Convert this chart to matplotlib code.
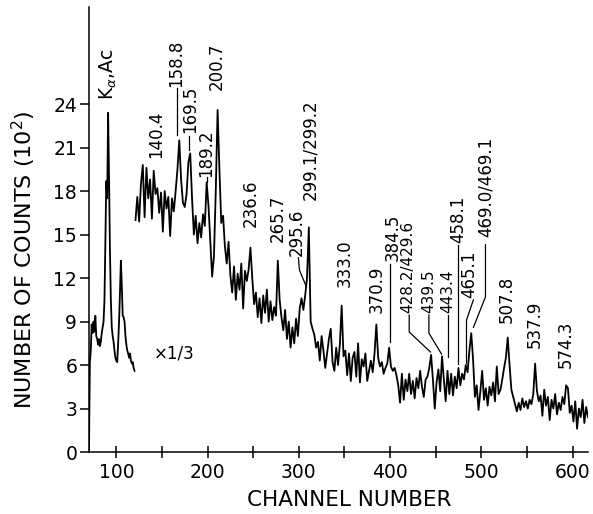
import numpy as np
import matplotlib
matplotlib.use("Agg")
import matplotlib.pyplot as plt

plt.rcParams['font.family'] = ['DejaVu Sans']

# low-energy part, plotted at 1/3 scale (channels 70..120)
low_channels = np.arange(70, 121)
low_counts = [
    0.0, 6.2, 7.0, 8.8, 8.2, 9.0, 8.3, 9.4, 8.0, 7.8,
    7.4, 7.8, 7.3, 7.6, 8.2, 8.6, 9.0, 10.5, 14.5, 18.7,
    17.5, 23.4, 19.0, 14.0, 10.5, 8.6, 8.0, 7.6, 7.0, 6.5,
    6.3, 6.2, 7.5, 9.0, 11.0, 13.2, 11.5, 9.4, 9.3, 9.0,
    8.0, 7.4, 7.0, 6.8, 6.5, 6.8, 6.3, 6.1, 6.2, 5.8,
    5.6,
]

# main spectrum (channels 121..617, every 2nd channel)
main_channels = np.arange(121, 618, 2)
main_counts = [
    16.0, 17.6, 15.9, 18.5, 19.8, 16.2, 19.6, 17.5, 18.8, 16.1,
    19.4, 17.8, 18.2, 16.5, 17.9, 15.2, 18.0, 16.8, 17.6, 14.9,
    17.5, 16.6, 18.0, 19.5, 21.5, 18.8, 17.2, 16.9, 17.8, 20.0,
    20.6, 17.5, 15.0, 16.3, 14.4, 15.8, 14.8, 16.4, 15.6, 18.6,
    17.0, 14.5, 12.1, 13.5, 18.0, 23.6, 19.5, 15.8, 16.3, 14.2,
    13.0, 14.5, 12.2, 11.0, 12.8, 10.5, 12.3, 11.2, 13.0, 9.9,
    12.5, 11.8, 12.6, 14.1, 12.0, 10.2, 11.0, 9.3, 10.6, 8.9,
    10.8, 9.6, 11.2, 9.0, 10.4, 9.1, 10.0, 9.4, 13.2, 10.5,
    9.3, 8.4, 9.8, 7.8, 9.0, 7.2, 8.6, 7.5, 9.2, 8.0,
    9.9, 10.6, 9.8, 10.8, 12.0, 15.5, 9.0, 8.5, 8.1, 7.2,
    7.6, 6.3, 8.0, 7.0, 5.8, 6.8, 7.8, 8.5, 6.2, 5.6,
    7.2, 6.0, 7.4, 10.1, 6.6, 7.0, 5.3, 6.8, 4.9, 6.5,
    6.9, 5.2, 7.5, 4.8, 6.4, 5.9, 6.8, 4.9, 5.6, 6.3,
    5.5, 6.8, 8.8, 6.5, 5.9, 6.2, 5.4, 5.8, 6.1, 7.2,
    5.9, 5.6, 5.8, 5.3, 4.6, 3.4, 5.4, 3.6, 5.0, 4.2,
    5.4, 4.0, 4.9, 3.7, 5.1, 4.4, 5.6, 4.5, 3.8, 5.0,
    5.2, 5.8, 6.7, 5.0, 3.0, 4.8, 5.7, 4.2, 6.6, 5.0,
    3.5, 5.6, 4.0, 5.4, 3.9, 5.2, 4.4, 5.8, 4.6, 5.4,
    5.0, 6.0, 5.5, 7.0, 8.2, 6.4, 3.8, 4.6, 2.9, 4.2,
    5.6, 3.6, 4.4, 3.2, 4.5, 3.9, 4.8, 3.5, 5.9, 4.0,
    4.3, 5.0, 5.8, 6.5, 7.9, 6.0, 4.3, 3.8, 3.3, 2.8,
    3.4, 2.9, 3.7, 3.1, 3.5, 3.0, 3.6, 3.3, 4.0, 6.1,
    4.2, 3.5, 3.9, 2.5, 4.3, 3.2, 3.8, 2.2, 3.6, 3.0,
    4.0, 2.6, 3.4, 2.9, 3.8, 3.3, 4.6, 4.4, 2.7, 3.2,
    2.1, 3.5, 1.6, 3.0, 2.4, 3.6, 2.0, 3.1, 2.4,
]

# peak energies (keV) written over the spectrum
peak_labels = ["K$_{\\alpha}$,Ac", "140.4", "158.8", "169.5", "189.2", "200.7",
               "236.6", "265.7", "295.6", "299.1/299.2", "333.0", "370.9",
               "384.5", "428.2/429.6", "439.5", "443.4", "458.1", "465.1",
               "469.0/469.1", "507.8", "537.9", "574.3"]

# where each label sits (channel, counts at text bottom)
label_pos = [(91.2, 24.3), (143.9, 20.3), (165.8, 25.2), (181.1, 22.0),
             (198.7, 19.0), (209.6, 25.0), (247.0, 15.5), (276.5, 14.5),
             (297.4, 13.5), (312.7, 17.4), (350.0, 11.4), (385.0, 9.6),
             (402.6, 13.2), (419.8, 9.6), (442.6, 9.6), (463.2, 9.6),
             (475.0, 14.4), (487.0, 10.6), (504.6, 14.8), (527.6, 8.9),
             (558.3, 7.2), (592.3, 5.8)]
label_size = [13.5] + [12] * 12 + [11, 11, 11] + [12] * 6

# leader lines from labels down to their peaks
leaders = [
    [(166.0, 25.1), (166.0, 21.9)],
    [(180.0, 21.8), (180.0, 20.8)],
    [(199.5, 18.95), (199.5, 18.6)],
    [(299.6, 13.4), (300.7, 12.55), (308.3, 11.4)],
    [(400.4, 13.0), (400.4, 7.6)],
    [(421.0, 9.45), (421.0, 8.28), (444.3, 6.9)],
    [(442.6, 9.45), (442.6, 8.2), (456.4, 6.76)],
    [(463.2, 9.45), (463.2, 6.55)],
    [(475.0, 14.3), (475.0, 6.1)],
    [(491.4, 10.5), (483.8, 9.1), (483.8, 6.1)],
    [(504.6, 14.3), (504.6, 10.7), (491.4, 8.6)],
]

fig = plt.figure(figsize=(5.93, 5.14), dpi=100)
ax = fig.add_axes([0.150, 0.1206, 0.8416, 0.8658])

ax.plot(low_channels, low_counts, color='black', lw=1.3)
ax.plot(main_channels, main_counts, color='black', lw=1.3)

for txt, (x, y), fs in zip(peak_labels, label_pos, label_size):
    ax.text(x, y, txt, rotation=90, ha='center', va='bottom', fontsize=fs)

for pts in leaders:
    xs, ys = zip(*pts)
    ax.plot(xs, ys, color='black', lw=0.9)

ax.text(163.6, 6.8, "×1/3", ha='center', va='center', fontsize=12)

ax.set_xlim(70, 617)
ax.set_ylim(0, 30.7)
ax.spines['top'].set_visible(False)
ax.spines['right'].set_visible(False)
ax.spines['left'].set_linewidth(1.1)
ax.spines['bottom'].set_linewidth(1.1)

ax.set_yticks(np.arange(0, 25, 3))
ax.set_xticks([100, 200, 300, 400, 500, 600])
ax.set_xticks([150, 250, 350, 450, 550], minor=True)
ax.tick_params(axis='y', direction='out', length=6.5, width=1.1, labelsize=13.5, pad=2)
ax.tick_params(axis='x', which='both', direction='inout', length=8.5, width=1.1,
               labelsize=13.5, pad=4)

fig.text(0.040, 0.494, "NUMBER OF COUNTS (10$^2$)", rotation=90,
         ha='center', va='center', fontsize=16)
fig.text(0.589, 0.028, "CHANNEL NUMBER", ha='center', va='center', fontsize=15.5)

fig.savefig("out.png", dpi=100)
